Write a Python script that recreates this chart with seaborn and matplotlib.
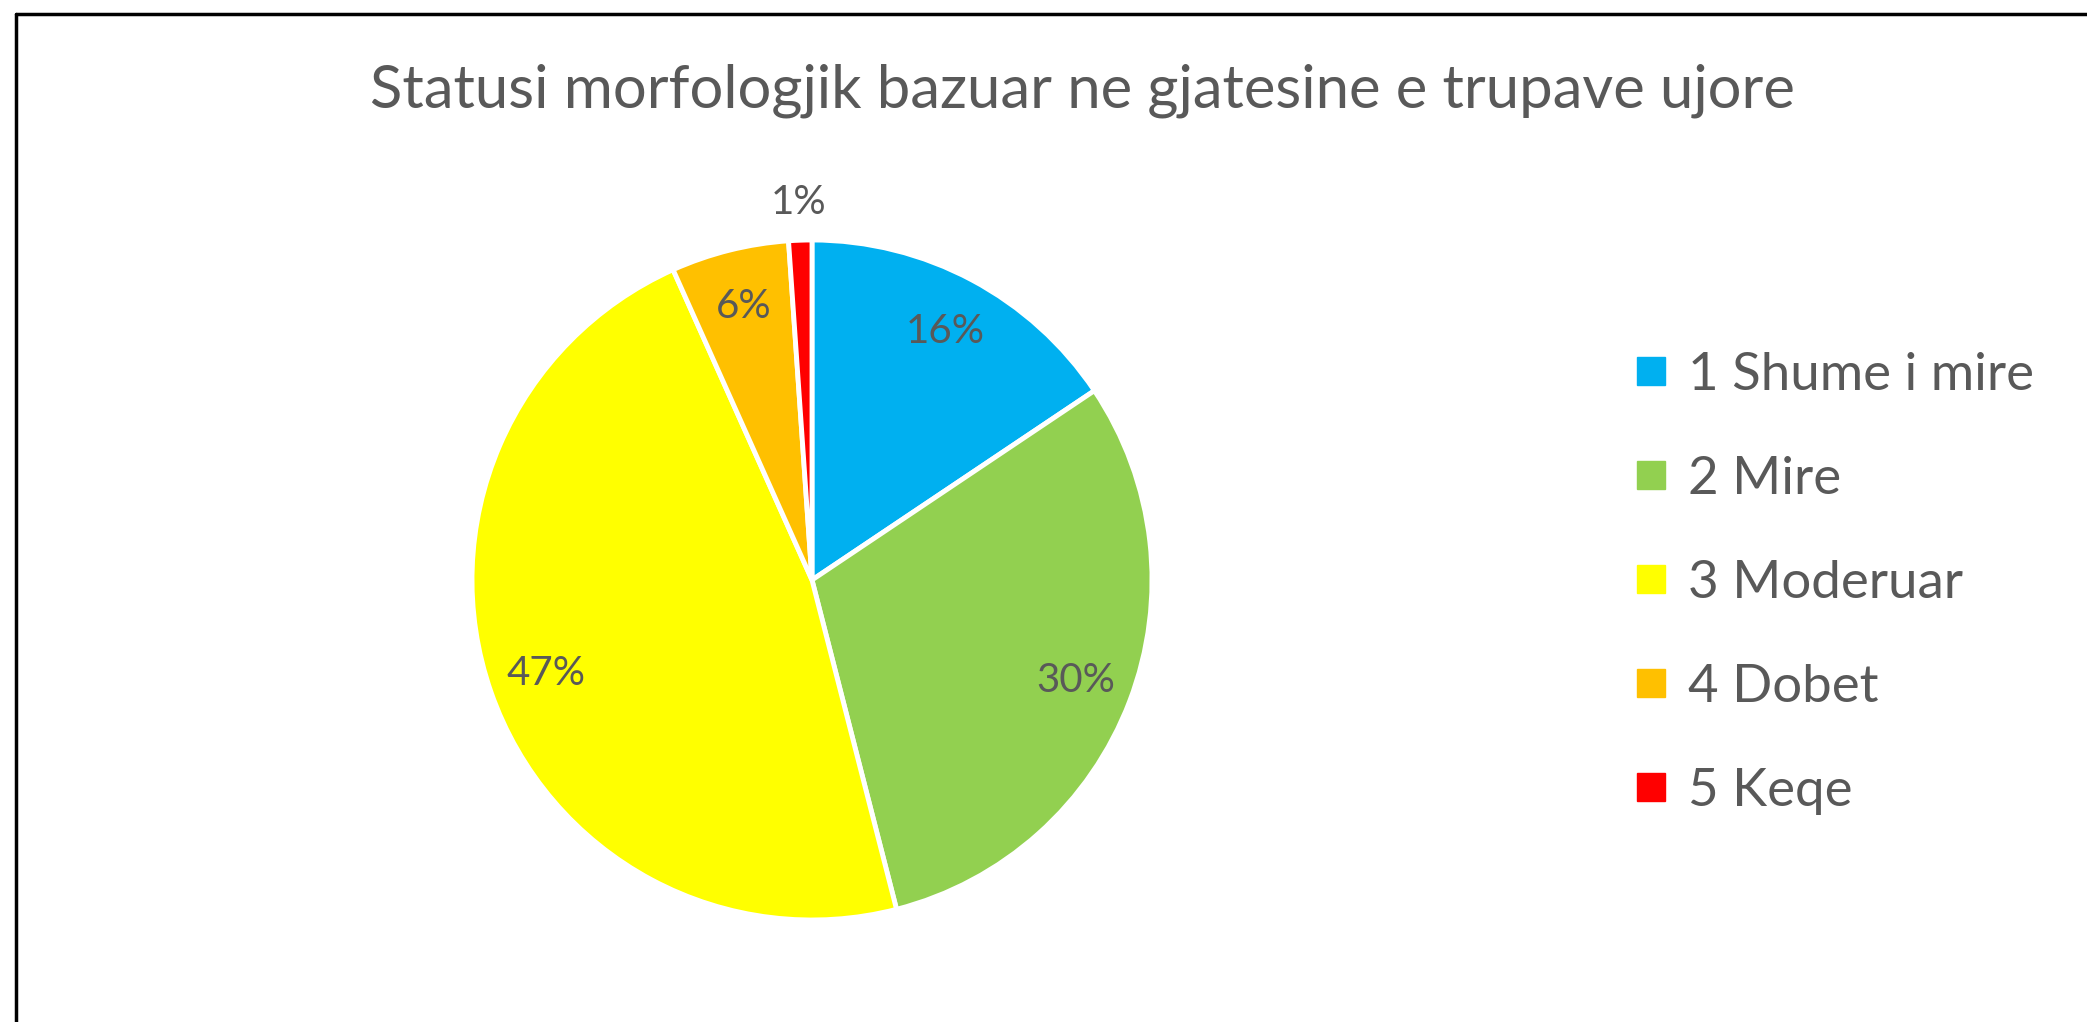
import matplotlib
matplotlib.use("Agg")
import matplotlib.pyplot as plt
import seaborn as sns
import numpy as np
from matplotlib.lines import Line2D

# data
labels = ["1 Shume i mire", "2 Mire", "3 Moderuar", "4 Dobet", "5 Keqe"]
shares = [15.6, 30.4, 47.3, 5.6, 1.1]
colors = ["#00B0F0", "#92D050", "#FFFF00", "#FFC000", "#FF0000"]
title = "Statusi morfologjik bazuar ne gjatesine e trupave ujore"

sns.set_theme(style="white")
plt.rcParams['font.family'] = ['Lato', 'DejaVu Sans']
text_color = "#595959"

W, H = 2087, 1022
fig = plt.figure(figsize=(W / 100, H / 100), dpi=100)
fig.patch.set_facecolor("white")

# pie centre (812, 580) px, radius 340 px
cx, cy, r = 812, 580, 340
ax = fig.add_axes([(cx - r) / W, (H - cy - r) / H, 2 * r / W, 2 * r / H])

wedges, texts, autotexts = ax.pie(
    shares, colors=colors, startangle=90, counterclock=False,
    autopct='%.0f%%', pctdistance=0.83,
    wedgeprops=dict(edgecolor='white', linewidth=3.5),
    textprops=dict(color=text_color, fontsize=29))
ax.set_xlim(-1, 1)
ax.set_ylim(-1, 1)
ax.set_aspect('equal')
ax.axis('off')

# smallest slice gets its label outside
w = wedges[-1]
mid = np.deg2rad((w.theta1 + w.theta2) / 2)
autotexts[-1].set_position((1.11 * np.cos(mid), 1.11 * np.sin(mid)))

fig.text(1082 / W, 1 - 108 / H, title, ha='center', va='baseline',
         fontsize=43, color=text_color)

handles = [Line2D([], [], marker='s', linestyle='', markersize=20, color=c)
           for c in colors]
fig.legend(handles, labels, loc='center left',
           bbox_to_anchor=(1636 / W, 1 - 583 / H), frameon=False,
           fontsize=38, labelcolor=text_color, handlelength=0.57,
           handletextpad=0.42, labelspacing=1.08, borderpad=0, borderaxespad=0)

# cropped frame: only left and top edges visible
fig.add_artist(Line2D([15.5 / W, 15.5 / W], [0, 1 - 14.5 / H],
                      transform=fig.transFigure, color='black', lw=2.5))
fig.add_artist(Line2D([15.5 / W, 1], [1 - 14.5 / H, 1 - 14.5 / H],
                      transform=fig.transFigure, color='black', lw=2.5))

fig.savefig("out.png", dpi=100, facecolor="white")
